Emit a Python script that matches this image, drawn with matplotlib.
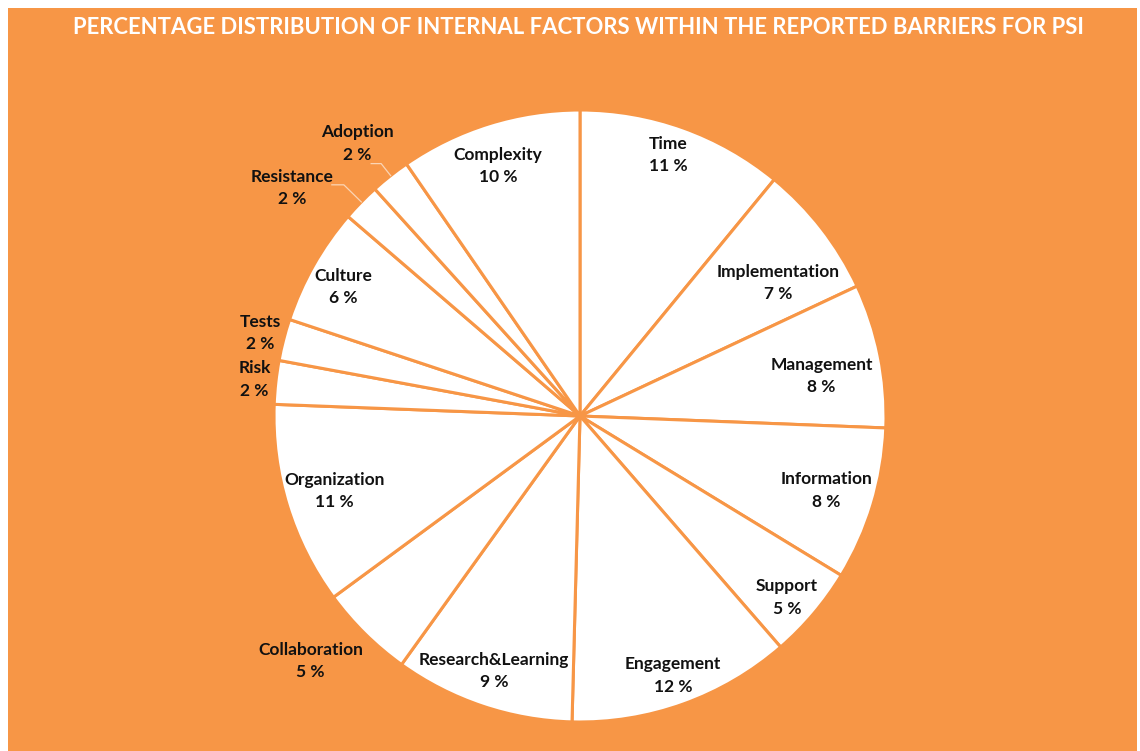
import numpy as np
import matplotlib
matplotlib.use('Agg')
import matplotlib.pyplot as plt
from matplotlib.patches import Rectangle

# slices, clockwise from 12 o'clock
categories = ['Time', 'Implementation', 'Management', 'Information', 'Support',
              'Engagement', 'Research&Learning', 'Collaboration', 'Organization',
              'Risk', 'Tests', 'Culture', 'Resistance', 'Adoption', 'Complexity']
# slice sizes as drawn in the chart (%)
shares = [10.95, 7.08, 7.6, 8.1, 4.9, 11.8, 9.5, 5.0, 10.7, 2.3, 2.2, 6.2, 2.0, 2.1, 9.6]
# percentages printed on the labels
pct_labels = [11, 7, 8, 8, 5, 12, 9, 5, 11, 2, 2, 6, 2, 2, 10]

title = 'PERCENTAGE DISTRIBUTION OF INTERNAL FACTORS WITHIN THE REPORTED BARRIERS FOR PSI'

# label placement: radius (fraction of pie radius) and angle tweak in degrees
label_r = [0.90, 0.78, 0.80, 0.84, 0.90, 0.90, 0.88, 1.19, 0.84, 1.07, 1.08, 0.88, 1.20, 1.15, 0.86]
label_dang = [-1, 4, 2, 0, 1, 0, 0, 3, 0, 0, 0, -1, -6, -1, -1]
leaders = {'Resistance': (1.08, 12), 'Adoption': (1.05, 10)}

ORANGE = '#F79646'
W, H = 1140, 751
cx, cy, R = 580, H - 416, 306

fig = plt.figure(figsize=(W / 100, H / 100), dpi=100)
fig.patch.set_facecolor('white')
fig.add_artist(Rectangle((8 / W, 0), (1137 - 8) / W, (H - 8) / H,
                         transform=fig.transFigure, facecolor=ORANGE,
                         edgecolor='none', zorder=0))

ax = fig.add_axes([0, 0, 1, 1])
ax.patch.set_alpha(0)
wedges, _ = ax.pie(shares, startangle=90, counterclock=False, center=(cx, cy),
                   radius=R, colors=['white'] * len(shares),
                   wedgeprops=dict(edgecolor=ORANGE, linewidth=2.2))
ax.set_xlim(0, W)
ax.set_ylim(0, H)
ax.set_aspect('equal')
ax.axis('off')

font = 'Lato'
cum = np.cumsum([0] + shares)
for i, name in enumerate(categories):
    mid = (cum[i] + cum[i + 1]) / 2 / 100 * 360 + label_dang[i]
    t = np.radians(mid)
    r = label_r[i] * R
    x = cx + r * np.sin(t)
    y = cy + r * np.cos(t)
    ax.text(x, y, f'{name}\n{pct_labels[i]} %', ha='center', va='center',
            fontsize=12.5, fontweight='bold', family=font, color='#111111',
            linespacing=1.5)
    if name in leaders:
        rr, dx = leaders[name]
        t0 = np.radians((cum[i] + cum[i + 1]) / 2 / 100 * 360)
        ex, ey = cx + rr * R * np.sin(t0), cy + rr * R * np.cos(t0)
        rx, ry = cx + R * np.sin(t0), cy + R * np.cos(t0)
        ax.plot([ex - dx, ex, rx], [ey, ey, ry], color='#FBD5B5', lw=0.9)

fig.text(578 / W, 1 - 28 / H, title, ha='center', va='center', color='white',
         fontsize=15.9, fontweight='bold', family=font)

fig.savefig('out.png', dpi=100, facecolor=fig.get_facecolor())
